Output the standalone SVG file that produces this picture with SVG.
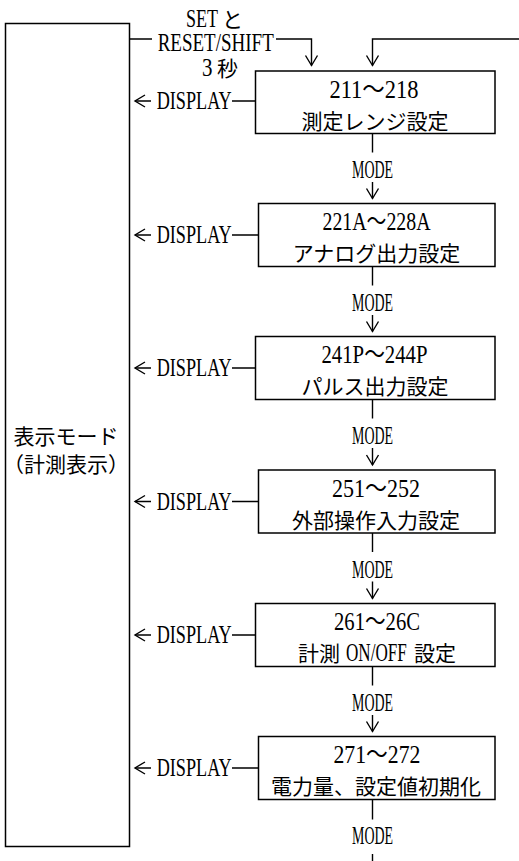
<svg xmlns="http://www.w3.org/2000/svg" width="519" height="861" viewBox="0 0 519 861">
<style>
.bg{fill:#fff}
.box{fill:#fff;stroke:#000;stroke-width:1.5}
.ln{fill:none;stroke:#000;stroke-width:1.4}
.lat{font-family:"Liberation Serif","Noto Sans CJK JP",serif;font-size:25px;fill:#000}
.cjk{font-family:"Noto Sans CJK JP",sans-serif;font-size:21px;fill:#000}
.mid{text-anchor:middle}
</style>
<defs>
<marker id="arr" markerUnits="userSpaceOnUse" orient="auto" overflow="visible" markerWidth="1" markerHeight="1" refX="0" refY="0">
<path d="M-10,-6 L0,0 L-10,6" fill="none" stroke="#000" stroke-width="1.4"/>
</marker>
</defs>
<rect class="bg" x="0" y="0" width="519" height="861"/>

<g id="connectors">
<path class="ln" d="M129.5,39 H152 M276,39 H311.5 V65.5" marker-end="url(#arr)"/>
<path class="ln" d="M519,39 H372.5 V65.5" marker-end="url(#arr)"/>
<path class="ln" d="M372.5,133.5 V152.5 M372.5,182 V198.5" marker-end="url(#arr)"/>
<path class="ln" d="M372.5,266.5 V285.5 M372.5,315 V331.5" marker-end="url(#arr)"/>
<path class="ln" d="M372.5,399.5 V418.5 M372.5,448 V465" marker-end="url(#arr)"/>
<path class="ln" d="M372.5,533 V552 M372.5,581.5 V598.5" marker-end="url(#arr)"/>
<path class="ln" d="M372.5,666.5 V685.5 M372.5,715 V731.5" marker-end="url(#arr)"/>
<path class="ln" d="M372.5,799.5 V819.5 M372.5,854 V861"/>
<path class="ln" d="M255.5,101 H232 M151,101 H135" marker-end="url(#arr)"/>
<path class="ln" d="M258.5,235 H232 M151,235 H135" marker-end="url(#arr)"/>
<path class="ln" d="M255.5,368 H232 M151,368 H135" marker-end="url(#arr)"/>
<path class="ln" d="M258.5,501.5 H232 M151,501.5 H135" marker-end="url(#arr)"/>
<path class="ln" d="M255.5,635 H232 M151,635 H135" marker-end="url(#arr)"/>
<path class="ln" d="M258.5,768 H232 M151,768 H135" marker-end="url(#arr)"/>
<text class="lat" transform="translate(186,26.5) scale(0.72,1)" x="0" y="0">SET</text>
<text class="cjk" x="222" y="26.5">と</text>
<text class="lat" transform="translate(157.7,51) scale(0.76,1)" x="0" y="0">RESET/SHIFT</text>
<text class="lat" transform="translate(202,75.5) scale(0.84,1)" x="0" y="0">3</text>
<text class="cjk" x="217" y="75.5">秒</text>
<text class="lat" x="156.7" y="109" textLength="75" lengthAdjust="spacingAndGlyphs">DISPLAY</text>
<text class="lat" x="156.7" y="243" textLength="75" lengthAdjust="spacingAndGlyphs">DISPLAY</text>
<text class="lat" x="156.7" y="376" textLength="75" lengthAdjust="spacingAndGlyphs">DISPLAY</text>
<text class="lat" x="156.7" y="509.5" textLength="75" lengthAdjust="spacingAndGlyphs">DISPLAY</text>
<text class="lat" x="156.7" y="643" textLength="75" lengthAdjust="spacingAndGlyphs">DISPLAY</text>
<text class="lat" x="156.7" y="776" textLength="75" lengthAdjust="spacingAndGlyphs">DISPLAY</text>
<text class="lat mid" x="372.5" y="178" textLength="41" lengthAdjust="spacingAndGlyphs">MODE</text>
<text class="lat mid" x="372.5" y="311" textLength="41" lengthAdjust="spacingAndGlyphs">MODE</text>
<text class="lat mid" x="372.5" y="444" textLength="41" lengthAdjust="spacingAndGlyphs">MODE</text>
<text class="lat mid" x="372.5" y="577.5" textLength="41" lengthAdjust="spacingAndGlyphs">MODE</text>
<text class="lat mid" x="372.5" y="711" textLength="41" lengthAdjust="spacingAndGlyphs">MODE</text>
<text class="lat mid" x="372.5" y="843.5" textLength="41" lengthAdjust="spacingAndGlyphs">MODE</text>
</g>

<g id="display-mode">
<rect class="box" x="5.5" y="23.5" width="124" height="823"/>
<text class="cjk mid" x="66" y="444">表示モード</text>
<text class="cjk mid" x="66" y="472">（計測表示）</text>
</g>

<g id="n211">
<rect class="box" x="255.5" y="71" width="239.5" height="62.5"/>
<text class="lat mid" x="374" y="97.5" textLength="89" lengthAdjust="spacingAndGlyphs">211～218</text>
<text class="cjk mid" x="375" y="128.5">測定レンジ設定</text>
</g>

<g id="n221">
<rect class="box" x="258.5" y="203.5" width="236.5" height="63"/>
<text class="lat mid" x="376.5" y="230" textLength="108" lengthAdjust="spacingAndGlyphs">221A～228A</text>
<text class="cjk mid" x="376.5" y="261">アナログ出力設定</text>
</g>

<g id="n241">
<rect class="box" x="255.5" y="336.5" width="239.5" height="63"/>
<text class="lat mid" x="374.5" y="363" textLength="106" lengthAdjust="spacingAndGlyphs">241P～244P</text>
<text class="cjk mid" x="375" y="394">パルス出力設定</text>
</g>

<g id="n251">
<rect class="box" x="258.5" y="470" width="236.5" height="63"/>
<text class="lat mid" x="376" y="496.5" textLength="88" lengthAdjust="spacingAndGlyphs">251～252</text>
<text class="cjk mid" x="376" y="527.5">外部操作入力設定</text>
</g>

<g id="n261">
<rect class="box" x="255.5" y="603.5" width="239.5" height="63"/>
<text class="lat mid" x="377" y="630" textLength="86" lengthAdjust="spacingAndGlyphs">261～26C</text>
<text class="cjk" x="298" y="661">計測</text>
<text class="lat" transform="translate(346,661) scale(0.685,1)" x="0" y="0">ON/OFF</text>
<text class="cjk" x="414" y="661">設定</text>
</g>

<g id="n271">
<rect class="box" x="258.5" y="736.5" width="236.5" height="63"/>
<text class="lat mid" x="377" y="763" textLength="87" lengthAdjust="spacingAndGlyphs">271～272</text>
<text class="cjk mid" x="376" y="794">電力量、設定値初期化</text>
</g>
</svg>
